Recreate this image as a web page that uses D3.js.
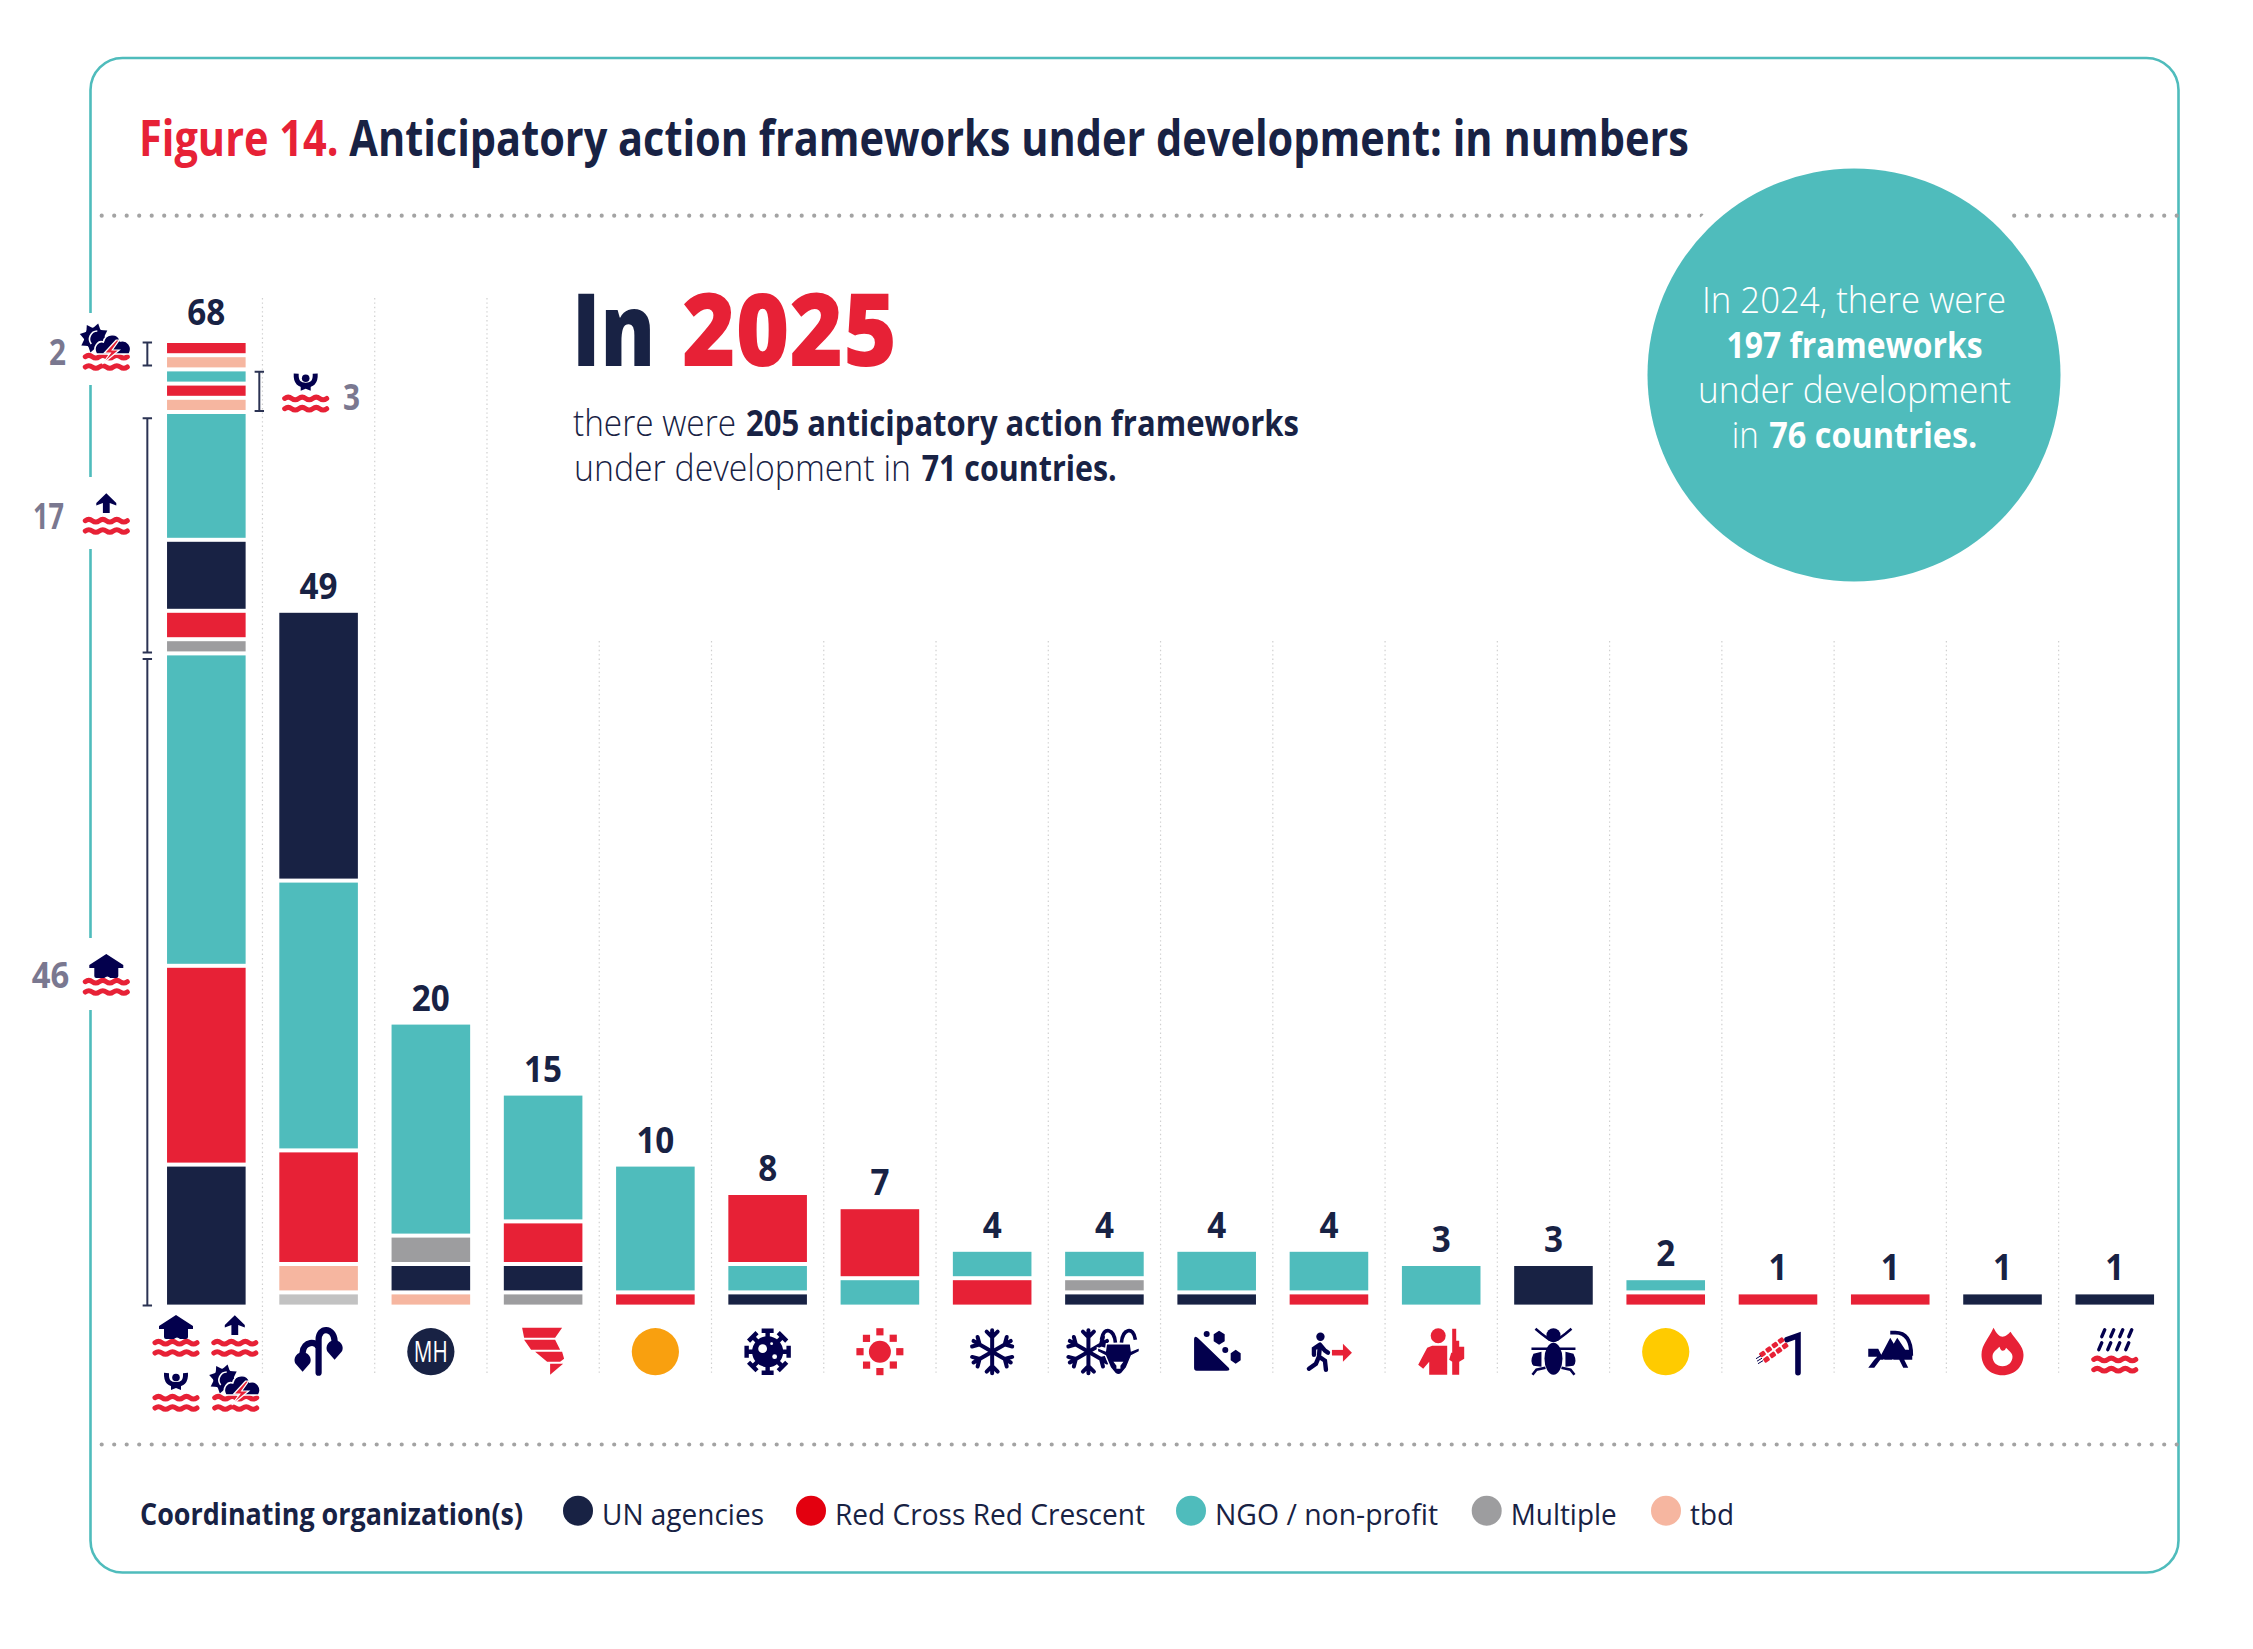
<!DOCTYPE html>
<html>
<head>
<meta charset="utf-8">
<script src="https://cdn.jsdelivr.net/npm/d3@7"></script>
<style>
  html, body { margin: 0; padding: 0; background: #fff; }
  svg { display: block; }
  text { font-family: "Open Sans", "Noto Sans", sans-serif; }
</style>
</head>
<body>
<div id="chart"></div>
<script>
const seriesKeys = ['UN', 'RC', 'NGO', 'Multiple', 'tbd', 'MultipleLight'];
const seriesColors = ['#182244', '#e72136', '#4fbcbc', '#9d9d9f', '#f6b6a0', '#c2c2c2'];

const categories = ['Floods', 'Drought', 'Multi-hazard', 'Cyclone', 'Orange alert', 'Disease', 'Heatwave', 'Cold wave',
    'Dzud', 'Landslide', 'Displacement', 'Conflict', 'Pests', 'Yellow alert', 'Crop failure', 'Volcano', 'Wildfire', 'Heavy rain'];
const totals = [68, 49, 20, 15, 10, 8, 7, 4, 4, 4, 4, 3, 3, 2, 1, 1, 1, 1];

// each stack reads from the baseline upwards
const stackKeys = [
    ['UN', 'RC', 'NGO', 'Multiple', 'RC', 'UN', 'NGO', 'tbd', 'RC', 'NGO', 'tbd', 'RC'],
    ['MultipleLight', 'tbd', 'RC', 'NGO', 'UN'],
    ['tbd', 'UN', 'Multiple', 'NGO'],
    ['Multiple', 'UN', 'RC', 'NGO'],
    ['RC', 'NGO'],
    ['UN', 'NGO', 'RC'],
    ['NGO', 'RC'],
    ['RC', 'NGO'],
    ['UN', 'Multiple', 'NGO'],
    ['UN', 'NGO'],
    ['RC', 'NGO'],
    ['NGO'],
    ['UN'],
    ['RC', 'NGO'],
    ['RC'],
    ['RC'],
    ['UN'],
    ['UN']
];
const stackValues = [
    [10, 14, 22, 1, 2, 5, 9, 1, 1, 1, 1, 1],
    [1, 2, 8, 19, 19],
    [1, 2, 2, 15],
    [1, 2, 3, 9],
    [1, 9],
    [1, 2, 5],
    [2, 5],
    [2, 2],
    [1, 1, 2],
    [1, 3],
    [1, 3],
    [3],
    [3],
    [1, 1],
    [1],
    [1],
    [1],
    [1]
];

// sub groups of the first bar, as cumulative ranges
const groupLabels = ['46', '17', '3', '2'];
const groupFrom = [0, 46, 63, 66];
const groupTo = [46, 63, 66, 68];

const legendLabels = ['UN agencies', 'Red Cross Red Crescent', 'NGO / non-profit', 'Multiple', 'tbd'];
const legendColors = ['#182244', '#e3000f', '#4fbcbc', '#9d9d9f', '#f6b6a0'];

const navy = '#182244', iconNavy = '#03004d', red = '#e72136', teal = '#4fbcbc';

const svg = d3.select('#chart').append('svg')
    .attr('width', 2253).attr('height', 1649)
    .attr('viewBox', [0, 0, 2253, 1649]);

const xScale = d3.scaleBand()
    .domain(categories)
    .range([150.2, 2170.9])
    .paddingInner(0.3)
    .paddingOuter(0.15);

const yScale = d3.scaleLinear()
    .domain([0, 68])
    .range([1304.6, 339]);

const color = d3.scaleOrdinal().domain(seriesKeys).range(seriesColors);

function txt(g, x, y, str, o) {
    let t = g.append('text')
        .attr('x', x).attr('y', y)
        .attr('font-size', o.size)
        .attr('font-weight', o.weight || 400)
        .attr('fill', o.fill || navy)
        .attr('text-anchor', o.anchor || 'start')
        .text(str);
    if (o.width) t.attr('textLength', o.width).attr('lengthAdjust', 'spacingAndGlyphs');
    return t;
}

// frame
svg.append('rect')
    .attr('x', 90.5).attr('y', 58)
    .attr('width', 2088).attr('height', 1514.5)
    .attr('rx', 32)
    .attr('fill', 'none')
    .attr('stroke', teal)
    .attr('stroke-width', 2.6);

// dotted rules
[215.7, 1444.5].forEach(y => {
    svg.append('line')
        .attr('x1', 101.7).attr('x2', 2178)
        .attr('y1', y).attr('y2', y)
        .attr('stroke', '#a3a3a3')
        .attr('stroke-width', 4.2)
        .attr('stroke-linecap', 'round')
        .attr('stroke-dasharray', '0 12.5');
});

// title: one text squeezed as a whole to the reference width
const title = svg.append('text')
    .attr('font-size', 50)
    .attr('font-weight', 700)
    .attr('fill', navy);
title.append('tspan').attr('fill', red).text('Figure 14. ');
title.append('tspan').text('Anticipatory action frameworks under development: in numbers');
title.attr('transform', `translate(139,156) scale(${1550 / title.node().getComputedTextLength()},1)`);

// big note
const note = svg.append('g');
txt(note, 572, 366, 'In', { size: 101, weight: 800, width: 83 });
txt(note, 682, 366, '2025', { size: 101, weight: 800, fill: red, width: 215 });
txt(note, 573, 436, 'there were', { size: 36, weight: 300, width: 163 });
txt(note, 746, 436, '205 anticipatory action frameworks', { size: 36, weight: 700, width: 553 });
txt(note, 574, 480.7, 'under development in', { size: 36, weight: 300, width: 337 });
txt(note, 921.7, 480.7, '71 countries.', { size: 36, weight: 700, width: 195 });

// 2024 bubble
const bubble = svg.append('g');
bubble.append('circle').attr('cx', 1854).attr('cy', 375).attr('r', 220).attr('fill', '#fff');
bubble.append('circle').attr('cx', 1854).attr('cy', 375).attr('r', 206.5).attr('fill', teal);
txt(bubble, 1702, 312.7, 'In 2024, there were', { size: 36, weight: 300, fill: '#fff', width: 304 });
txt(bubble, 1726.5, 358, '197 frameworks', { size: 36, weight: 700, fill: '#fff', width: 256 });
txt(bubble, 1698, 402.7, 'under development', { size: 36, weight: 300, fill: '#fff', width: 313 });
txt(bubble, 1731.7, 448, 'in', { size: 36, weight: 300, fill: '#fff', width: 27 });
txt(bubble, 1769.3, 448, '76 countries.', { size: 36, weight: 700, fill: '#fff', width: 208 });

// separators between the columns, halfway across the gap
const step = xScale.step();
svg.append('g').selectAll('line')
    .data(categories.slice(1))
    .join('line')
    .attr('x1', d => xScale(d) - (step - xScale.bandwidth()) / 2)
    .attr('x2', d => xScale(d) - (step - xScale.bandwidth()) / 2)
    .attr('y1', (d, i) => i < 3 ? 298 : 641)
    .attr('y2', 1375)
    .attr('stroke', '#cfcfcf')
    .attr('stroke-width', 1.2)
    .attr('stroke-dasharray', '1.4 3');

// stacked bars
const gap = 4;
const bars = svg.append('g').selectAll('g')
    .data(categories)
    .join('g');

bars.each(function (c, i) {
    let acc = 0;
    stackValues[i].forEach((v, j) => {
        d3.select(this).append('rect')
            .attr('x', xScale(c))
            .attr('width', xScale.bandwidth())
            .attr('y', yScale(acc + v) + gap)
            .attr('height', yScale(acc) - yScale(acc + v) - gap)
            .attr('fill', color(stackKeys[i][j]));
        acc += v;
    });
});

bars.append('text')
    .attr('x', c => xScale(c) + xScale.bandwidth() / 2)
    .attr('y', (c, i) => yScale(totals[i]) - (i === 0 ? 14 : 10))
    .attr('text-anchor', 'middle')
    .attr('font-size', 35)
    .attr('font-weight', 700)
    .attr('fill', navy)
    .attr('textLength', (c, i) => totals[i] > 9 ? 38 : 19)
    .attr('lengthAdjust', 'spacingAndGlyphs')
    .text((c, i) => totals[i]);

// brackets next to the first bar
const x0 = xScale(categories[0]);
const bracketX = [x0 - 19.7, x0 - 19.7, x0 + xScale.bandwidth() + 13.7, x0 - 19.7];
const bracketInset = [7.7, 8.3, 4.3, 3.4];
const brackets = svg.append('g');
groupLabels.forEach((g, i) => {
    let top = yScale(groupTo[i]) + bracketInset[i], bottom = yScale(groupFrom[i]) + (i === 3 ? -2 : 1);
    brackets.append('path')
        .attr('d', `M${bracketX[i] - 4.7},${top}H${bracketX[i] + 4.7}M${bracketX[i]},${top}V${bottom}M${bracketX[i] - 4.7},${bottom}H${bracketX[i] + 4.7}`)
        .attr('fill', 'none')
        .attr('stroke', '#2b3353')
        .attr('stroke-width', 2);
});

// icons: every function draws in a box of about 47x47 round its origin
function waves(g, y) {
    let wave = '';
    for (let k = 0; k < 3; k++) wave += 'q3.5,-2.6 7,0 q3.5,2.6 7,0 ';
    [y - 10.3, y].forEach(wy => {
        g.append('path')
            .attr('d', `M-21,${wy} ` + wave)
            .attr('fill', 'none')
            .attr('stroke', red)
            .attr('stroke-width', 5)
            .attr('stroke-linecap', 'round');
    });
}
function houseMark(g) {
    g.append('path').attr('fill', iconNavy)
        .attr('d', 'M0,-42 L17,-31 L17,-28 L12,-28 L12,-20 Q12,-18 10,-18 L4,-18 Q1,-21 -2,-18 L-10,-18 Q-12,-18 -12,-20 L-12,-28 L-17,-28 L-17,-31 Z');
}
function arrowMark(g) {
    g.append('path').attr('fill', iconNavy)
        .attr('d', 'M0,-41.7 L10,-32 L10,-29.5 L3.4,-32 L3.4,-22 L-3.4,-22 L-3.4,-32 L-10,-29.5 L-10,-32 Z');
}
function personMark(g) {
    g.append('circle').attr('cx', 0).attr('cy', -34.5).attr('r', 3.8).attr('fill', iconNavy);
    g.append('path').attr('fill', 'none').attr('stroke', iconNavy).attr('stroke-width', 5)
        .attr('d', 'M-9.5,-39 C-10,-30 -6,-27.5 0,-27.5 C6,-27.5 10,-30 9.5,-39');
    g.append('path').attr('fill', iconNavy).attr('d', 'M-5,-27 H5 L5,-22 L0,-24 L-5,-22 Z');
}
function stormMark(g) {
    let sun = g.append('g').attr('transform', 'translate(-12,-33)');
    d3.range(8).forEach(k => {
        sun.append('path').attr('fill', iconNavy).attr('transform', `rotate(${k * 45 + 15})`)
            .attr('d', 'M-4,-9 L0,-15 L4,-9 Z');
    });
    sun.append('circle').attr('r', 10.5).attr('fill', iconNavy);
    sun.append('path').attr('fill', 'none').attr('stroke', '#fff').attr('stroke-width', 1.6).attr('d', 'M3,-7 A8,8 0 0 0 -3,6');
    g.append('path').attr('fill', iconNavy).attr('stroke', '#fff').attr('stroke-width', 1.6)
        .attr('d', 'M-10,-17 C-14,-24 -8,-31 -3,-29 C-1,-38 12,-39 14,-30 C21,-32 27,-24 23,-17 Z');
    g.append('path').attr('fill', red).attr('stroke', '#fff').attr('stroke-width', 1.2)
        .attr('d', 'M10,-31 L-2,-18 L4,-18 L-4,-7 L13,-21 L6,-21 L13,-31 Z');
}
function flood(mark) {
    return g => { waves(g, -4); mark(g); };
}
function snowflake(g) {
    d3.range(6).forEach(k => {
        g.append('path').attr('transform', `rotate(${k * 60})`)
            .attr('fill', 'none').attr('stroke', iconNavy).attr('stroke-width', 4).attr('stroke-linecap', 'round')
            .attr('d', 'M0,0 V-21.5 M-5.5,-20 L0,-14.5 L5.5,-20');
    });
}
function goat(g) {
    g.append('path').attr('fill', iconNavy).attr('stroke', '#fff').attr('stroke-width', 1.4)
        .attr('d', 'M-12,-8 H12 L13,-1 L21,-4 L21,0 L13,4 L8,16 L3,22 Q0,24 -3,22 L-8,16 L-13,4 L-21,0 L-21,-4 L-13,-1 Z');
    g.append('path').attr('fill', 'none').attr('stroke', iconNavy).attr('stroke-width', 3.6)
        .attr('d', 'M-3,-9 C-4,-23 -15,-26 -17,-12 M3,-9 C4,-23 15,-26 17,-12');
    g.append('path').attr('fill', '#fff').attr('d', 'M-5,10 H5 L2,14 V17 H-2 V14 Z');
}
const icons = {
    drought(g) {
        g.append('path').attr('fill', 'none').attr('stroke', iconNavy).attr('stroke-width', 6.2).attr('stroke-linecap', 'round')
            .attr('d', 'M0,21 V-12 C0,-25 15,-25 16,-11 M0,-4 C-2,-11 -15,-11 -16,1');
        g.append('path').attr('fill', iconNavy).attr('d', 'M16,-12 C25,-10 25,-3 23,0 L16,8 L9,0 C7,-3 7,-10 16,-12 Z');
        g.append('path').attr('fill', iconNavy).attr('d', 'M-16,0 C-7,2 -7,9 -9,12 L-16,20 L-23,12 C-25,9 -25,2 -16,0 Z');
    },
    mh(g) {
        g.append('circle').attr('r', 23.6).attr('fill', navy);
        txt(g, 0, 10.5, 'MH', { size: 29, weight: 400, fill: '#fff', anchor: 'middle', width: 34 });
    },
    tornado(g) {
        g.append('path').attr('fill', red)
            .attr('d', 'M-21,-24 L19,-24 L12,-14 L-19,-14 Z M-19,-12 L12,-12 L17,-2 L-12,-2 Z M-8,0 L19,0 L21,7 L17,10 L4,10 Z M7,12 L20,12 L7,23 Z');
    },
    orange(g) { g.append('circle').attr('r', 23.6).attr('fill', '#f9a00f'); },
    yellow(g) { g.append('circle').attr('r', 23.6).attr('fill', '#ffcb00'); },
    virus(g) {
        d3.range(8).forEach(k => {
            g.append('path').attr('transform', `rotate(${k * 45})`).attr('fill', 'none')
                .attr('stroke', iconNavy).attr('stroke-width', 4.4)
                .attr('d', 'M0,-12 V-20 M-6,-21 H6');
        });
        g.append('circle').attr('r', 15.5).attr('fill', iconNavy);
        g.append('circle').attr('cx', -5).attr('cy', -3).attr('r', 4.4).attr('fill', '#fff');
        g.append('circle').attr('cx', 7).attr('cy', 5).attr('r', 2.4).attr('fill', '#fff');
        g.append('circle').attr('cx', 4).attr('cy', -8).attr('r', 1.4).attr('fill', '#fff');
    },
    sun(g) {
        g.append('circle').attr('r', 11).attr('fill', red);
        d3.range(8).forEach(k => {
            g.append('rect').attr('x', -3.6).attr('y', -23.5).attr('width', 7.2).attr('height', 7.2)
                .attr('fill', red)
                .attr('transform', k % 2 ? `rotate(${k * 45}) translate(0,1) rotate(45,0,-20)` : `rotate(${k * 45})`);
        });
    },
    snow(g) { snowflake(g); },
    dzud(g) {
        snowflake(g.append('g').attr('transform', 'translate(-16,0)'));
        goat(g.append('g').attr('transform', 'translate(14,0)'));
    },
    landslide(g) {
        g.append('path').attr('fill', iconNavy).attr('d', 'M-22.6,-13 Q-22,-17 -18,-13 L12,16 Q14,19 10,19 L-20,19 Q-22.6,19 -22.6,16 Z');
        g.append('path').attr('fill', iconNavy).attr('d', 'M2.4,-21 L8,-17.5 L8,-10.5 L2.4,-7 L-3,-10.5 L-3,-17.5 Z M19,-2 L24,1.5 L24,8.5 L19,12 L14,8.5 L14,1.5 Z');
        g.append('circle').attr('cx', -10).attr('cy', -17.7).attr('r', 3).attr('fill', iconNavy);
        g.append('circle').attr('cx', 8.6).attr('cy', -1.7).attr('r', 3).attr('fill', iconNavy);
    },
    walk(g) {
        g.append('circle').attr('cx', -8.5).attr('cy', -15).attr('r', 4.2).attr('fill', iconNavy);
        g.append('path').attr('fill', 'none').attr('stroke', iconNavy).attr('stroke-width', 4.4).attr('stroke-linecap', 'round')
            .attr('d', 'M-9,-7 L-10,5 L-4,9 L-3,18 M-10,5 L-13,12 L-20,17 M-9,-7 L-15,-3 L-15,3 M-9,-7 L-4,-1 L-1,1');
        g.append('path').attr('fill', 'none').attr('stroke', red).attr('stroke-width', 5.6).attr('d', 'M3,1 H17');
        g.append('path').attr('fill', red).attr('d', 'M14,-8 L23,1 L14,10 Z');
    },
    conflict(g) {
        g.append('ellipse').attr('cx', -3).attr('cy', -16).attr('rx', 7.5).attr('ry', 7.5).attr('fill', red);
        g.append('path').attr('fill', red)
            .attr('d', 'M-9,-6 L6,-6 L6,23 L-12,23 L-12,10 L-18,17 L-23,13 L-14,-4 Z');
        g.append('path').attr('fill', red)
            .attr('d', 'M11,-23 L15,-23 L15,-11 L18,-11 L18,-5 L23,-5 L23,7 L18,10 L18,23 L11,23 L11,10 L8,8 L10,1 L11,1 Z');
    },
    bug(g) {
        g.append('path').attr('fill', 'none').attr('stroke', iconNavy).attr('stroke-width', 2.6)
            .attr('d', 'M-4,-12 L-12,-18 L-18,-23 M4,-12 L12,-18 L18,-23 M-6,-3 H-22 M6,-3 H22 M-8,16 L-17,18 L-21,23 M8,16 L17,18 L21,23');
        g.append('ellipse').attr('cy', -16.5).attr('rx', 7).attr('ry', 7).attr('fill', iconNavy);
        g.append('ellipse').attr('cy', 7).attr('rx', 9).attr('ry', 16).attr('fill', iconNavy);
        g.append('path').attr('fill', iconNavy).attr('d', 'M-12,0 L-20,2 Q-24,10 -20,14 L-12,15 Z M12,0 L20,2 Q24,10 20,14 L12,15 Z');
    },
    crop(g) {
        g.append('path').attr('fill', 'none').attr('stroke', iconNavy).attr('stroke-width', 5.6).attr('stroke-linecap', 'round')
            .attr('d', 'M20,21 V-16 L9,-12');
        d3.range(4).forEach(k => {
            [-1, 1].forEach(s => {
                g.append('rect').attr('x', -3).attr('y', -2.5).attr('width', 6).attr('height', 5).attr('rx', 1.2).attr('fill', red)
                    .attr('transform', `translate(${-13.5 + k * 6.2 + s * 2},${5 - k * 4.5 + s * 2.7})rotate(-35)`);
            });
        });
        g.append('path').attr('fill', 'none').attr('stroke', iconNavy).attr('stroke-width', 1)
            .attr('d', 'M-22,7 L-17,4 M-21,9.5 L-16,6.5 M-20,12 L-15,9');
    },
    volcano(g) {
        g.append('path').attr('fill', iconNavy)
            .attr('d', 'M-22,-3 H-12 L-9,3 L0,-14 L3.5,-8 L7,-14 L15,-2 L22,-2 L22,8 L14,8 L18,16 L13,16 L9,8 L-10,8 L-16,16 L-22,16 L-16,8 L-13,5 L-22,5 Z');
        g.append('path').attr('fill', 'none').attr('stroke', iconNavy).attr('stroke-width', 3.8)
            .attr('d', 'M0,-19 H5 C18,-19 21,-8 21,4');
        g.append('path').attr('fill', 'none').attr('stroke', '#fff').attr('stroke-width', 1.4)
            .attr('d', 'M-6,8 L-12,16 M3,8 L-3,16');
    },
    fire(g) {
        g.append('path').attr('fill', red)
            .attr('d', 'M0,23.5 C-13,23.5 -21,14 -21,3 C-21,-7 -14,-13 -9,-24 C-6,-18 -3,-15 0,-15 C3,-15 6,-18 8,-20 C13,-12 21,-6 21,3 C21,14 13,23.5 0,23.5 Z');
        g.append('path').attr('fill', '#fff')
            .attr('d', 'M0,14.5 C-6,14.5 -10,10 -10,5 C-10,0 -6,-2 -3,-5 C-2,-2 -1,-1 0,-1 C2,-1 3,-2 3.5,-4 C7,0 10,1 10,5 C10,10 6,14.5 0,14.5 Z');
    },
    rain(g) {
        g.append('path').attr('fill', 'none').attr('stroke', iconNavy).attr('stroke-width', 3.4).attr('stroke-linecap', 'round')
            .attr('d', 'M-13,-15 L-10,-22 M-4,-15 L-1,-22 M5,-15 L8,-22 M14,-15 L17,-22 M-16,-2 L-13,-9 M-7,-2 L-4,-9 M2,-2 L5,-9 M11,-2 L14,-9');
        waves(g, 18);
    }
};

const iconKeys = [null, 'drought', 'mh', 'tornado', 'orange', 'virus', 'sun', 'snow', 'dzud', 'landslide', 'walk', 'conflict', 'bug', 'yellow', 'crop', 'volcano', 'fire', 'rain'];
const iconRow = svg.append('g');
iconKeys.forEach((k, i) => {
    if (!k) return;
    let g = iconRow.append('g')
        .attr('transform', `translate(${xScale(categories[i]) + xScale.bandwidth() / 2},1351.7)`);
    icons[k](g);
});

// the four flood kinds: below the first bar and beside it
[[176, 1357, houseMark], [234.8, 1357, arrowMark], [176, 1412, personMark], [235.7, 1412, stormMark],
 [106.3, 371, stormMark], [106.3, 535, arrowMark], [106.3, 996, houseMark], [305.7, 412.7, personMark]]
    .forEach((d, i) => {
        if (i >= 4 && i !== 7) {
            // break the frame behind the icon
            svg.append('rect').attr('x', 82).attr('y', d[1] - 58).attr('width', 18).attr('height', 72).attr('fill', '#fff');
        }
        flood(d[2])(svg.append('g').attr('transform', `translate(${d[0]},${d[1]})`));
    });

// side counts
const sides = svg.append('g');
[['46', 31.7, 987.5, 37.5], ['17', 33, 529, 31], ['2', 49, 365, 17], ['3', 343, 410, 17]].forEach(d => {
    txt(sides, d[1], d[2], d[0], { size: 35, weight: 700, fill: '#7a7890', width: d[3] });
});

// legend
const legend = svg.append('g');
txt(legend, 140, 1525, 'Coordinating organization(s)', { size: 30, weight: 700, width: 383 });
const legendDot = [578, 811, 1191, 1486.7, 1666];
const legendWidths = [162, 310, 223, 106, 44];
legendLabels.forEach((l, i) => {
    legend.append('circle')
        .attr('cx', legendDot[i]).attr('cy', 1510.7).attr('r', 15)
        .attr('fill', legendColors[i]);
    txt(legend, legendDot[i] + 24, 1525, l, { size: 30, weight: 400, width: legendWidths[i] });
});
</script>
</body>
</html>
